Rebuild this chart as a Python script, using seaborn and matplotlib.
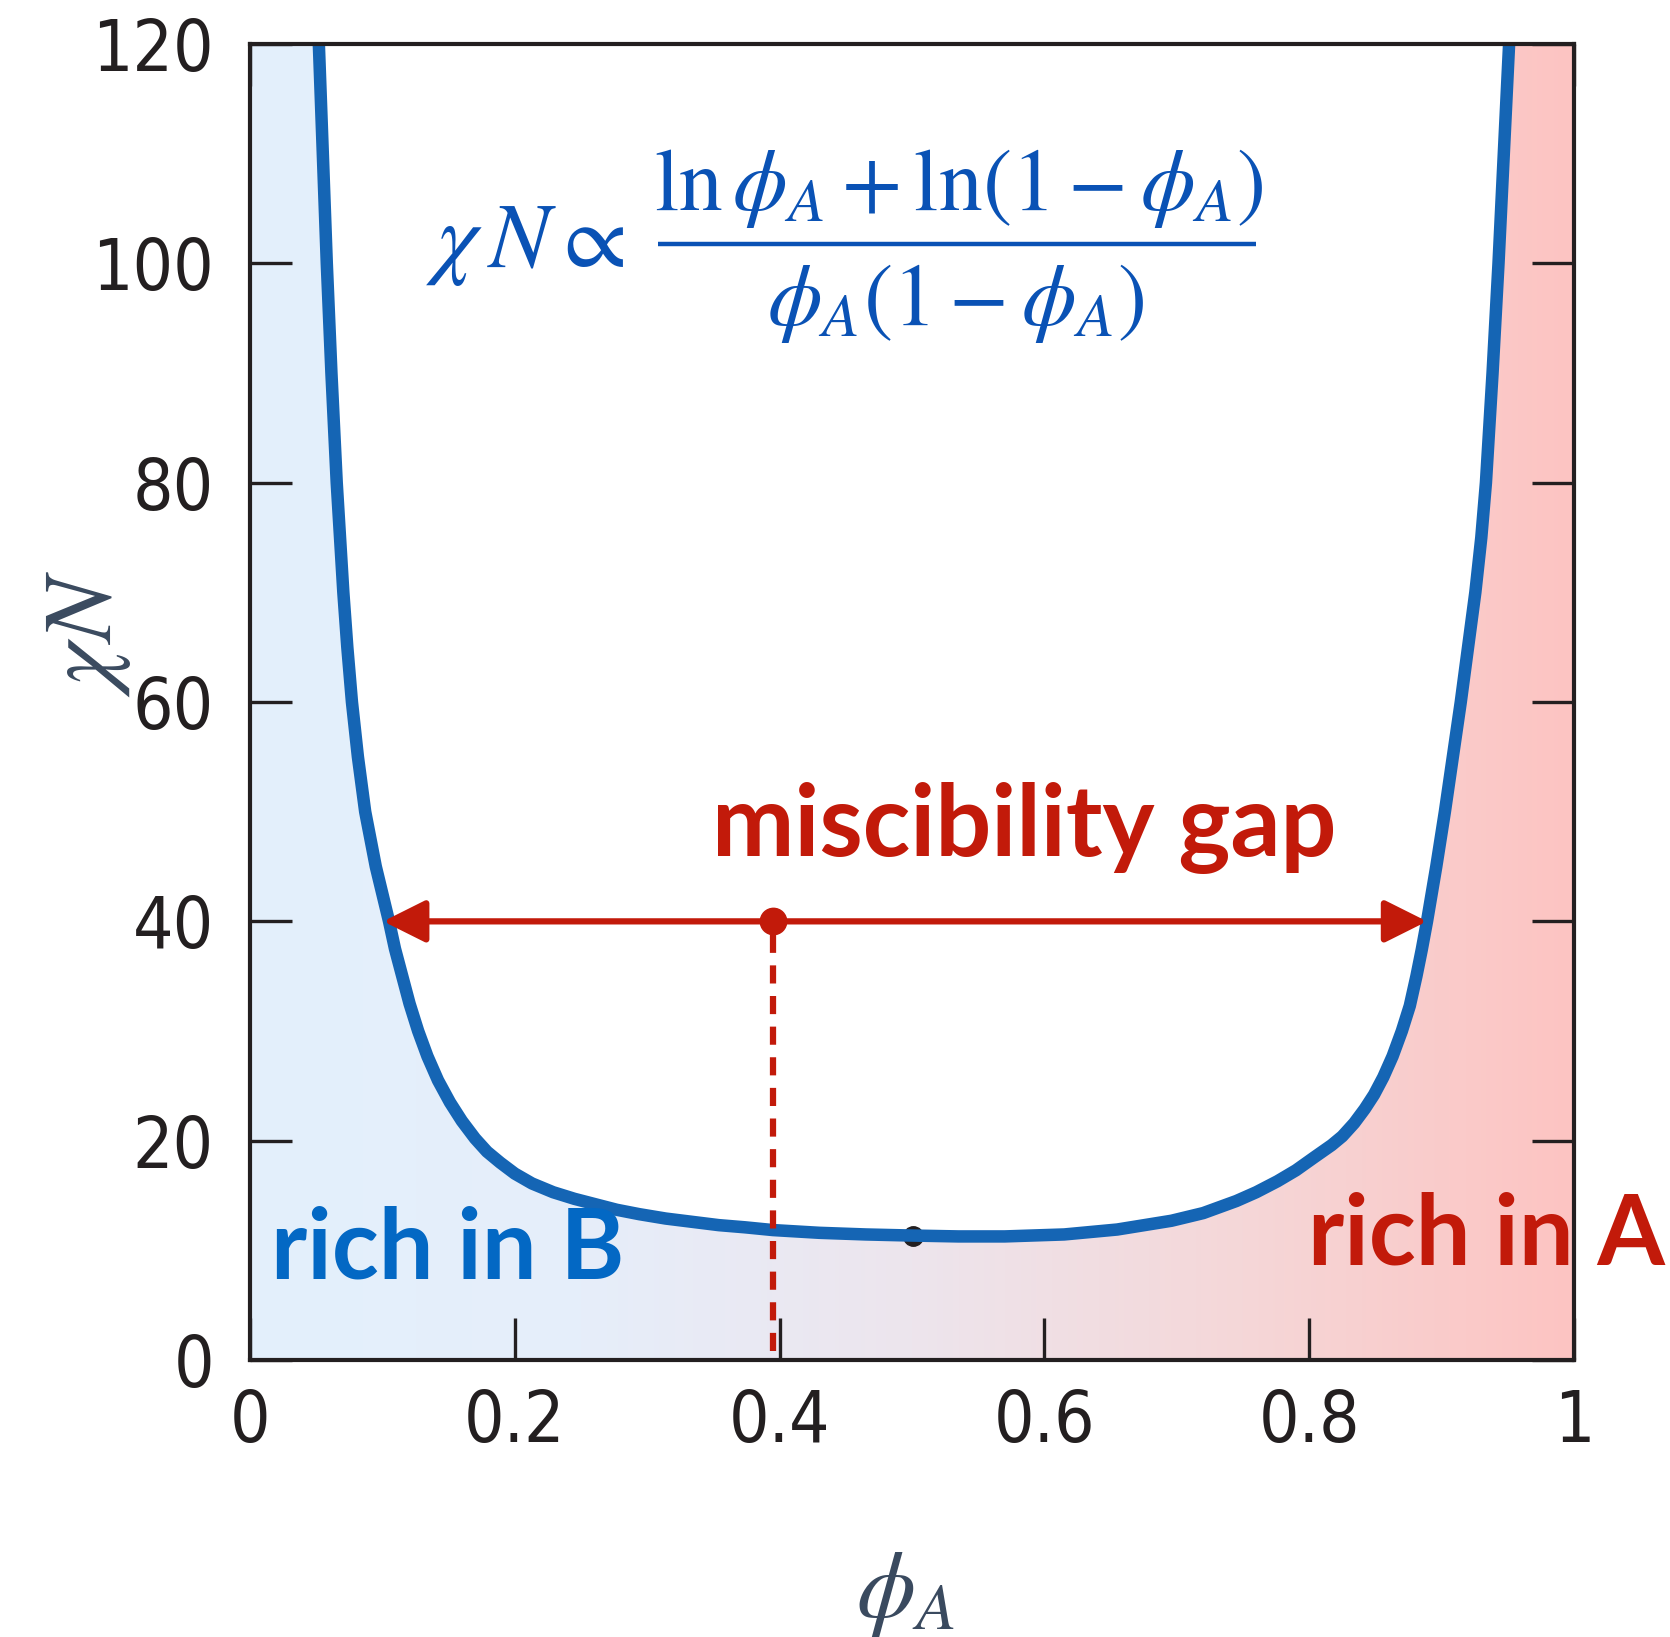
import numpy as np
import pandas as pd
import matplotlib
matplotlib.use("Agg")
import matplotlib.pyplot as plt
from matplotlib import font_manager
from matplotlib.font_manager import FontProperties
from matplotlib.colors import LinearSegmentedColormap
import seaborn as sns

# ---- data ----
phi_A = [0.052, 0.055, 0.058, 0.0615, 0.0655, 0.0705, 0.0735, 0.077, 0.0815, 0.087,
         0.095, 0.105, 0.1095, 0.115, 0.1205, 0.127, 0.134, 0.142, 0.151, 0.160,
         0.170, 0.179, 0.189, 0.200, 0.213, 0.229, 0.245, 0.261, 0.277, 0.294,
         0.314, 0.334, 0.354, 0.374, 0.395, 0.430, 0.465, 0.500, 0.535, 0.570,
         0.615, 0.655, 0.696, 0.720, 0.745, 0.760, 0.776, 0.790, 0.804, 0.817,
         0.825, 0.834, 0.842, 0.849, 0.856, 0.863, 0.870, 0.876, 0.881, 0.885,
         0.889, 0.896, 0.9025, 0.9085, 0.9145, 0.920, 0.9255, 0.930, 0.9335, 0.9385,
         0.943, 0.947, 0.951]
chi_N = [120.0, 110.0, 100.0, 90.0, 80.0, 70.0, 65.0, 60.0, 55.0, 50.0,
         45.0, 40.0, 37.5, 35.0, 32.5, 30.0, 27.7, 25.5, 23.5, 21.8,
         20.2, 19.0, 18.0, 17.0, 16.1, 15.3, 14.7, 14.2, 13.7, 13.3,
         12.9, 12.6, 12.3, 12.1, 11.85, 11.6, 11.45, 11.35, 11.27, 11.27,
         11.45, 11.9, 12.7, 13.4, 14.5, 15.3, 16.3, 17.3, 18.5, 19.6,
         20.4, 21.6, 22.9, 24.2, 25.8, 27.7, 30.0, 32.3, 35.0, 37.4,
         40.0, 45.0, 50.0, 55.0, 60.0, 65.0, 70.0, 75.0, 80.0, 90.0,
         100.0, 110.0, 120.0]

x_ticks = [0, 0.2, 0.4, 0.6, 0.8, 1.0]
x_tick_labels = ["0", "0.2", "0.4", "0.6", "0.8", "1"]
y_ticks = [0, 20, 40, 60, 80, 100, 120]
y_tick_labels = ["0", "20", "40", "60", "80", "100", "120"]

gap_chiN = 40.0
gap_left_phi = 0.1006
gap_right_phi = 0.889
overall_phi = 0.395
critical_phi = 0.501
critical_chiN = 11.35

df = pd.DataFrame({"phi": phi_A, "chiN": chi_N})

# ---- fonts ----
sns.set_theme(style="white")
fl = font_manager.fontManager.ttflist
def find_narrow():
    prefs = ["Liberation Sans Narrow", "DejaVu Sans", "Noto Sans", "Roboto", "Open Sans"]
    cands = []
    for f in fl:
        narrow = (f.stretch in ("condensed", "semi-condensed", "extra-condensed", "ultra-condensed")
                  or "Narrow" in f.name or "Condensed" in f.name
                  or "Narrow" in f.fname or "Condensed" in f.fname)
        w = f.weight if isinstance(f.weight, int) else 400
        if narrow and f.style == "normal" and w in (400, "normal", "regular"):
            cands.append(f)
    for p in prefs:
        for f in cands:
            if f.name == p:
                return f.fname
    return cands[0].fname if cands else None

narrow_path = find_narrow()
avail = {f.name for f in fl}
bold_font = "Lato" if "Lato" in avail else "DejaVu Sans"
plt.rcParams["font.family"] = ["DejaVu Sans"]
plt.rcParams["mathtext.fontset"] = "stix"
if narrow_path:
    tick_fp = FontProperties(fname=narrow_path, size=51)
else:
    tick_fp = FontProperties(family="Roboto", size=50)

DARK = "#231f20"
BLUE = "#1565b4"
RED = "#c21a0a"
LABEL = "#3a4a5f"
FORM = "#0a52b5"

fig = plt.figure(figsize=(16.7, 16.37), dpi=100)
ax = fig.add_axes([0.1497, 0.1692, 0.7928, 0.8039])

# gradient background
cmap = LinearSegmentedColormap.from_list(
    "bg", [(0.0, "#e3f0fc"), (0.25, "#e6eefa"), (0.5, "#ede5ed"), (0.75, "#f5d7d8"), (1.0, "#fdc4c2")])
grad = np.linspace(0, 1, 512).reshape(1, -1)
ax.imshow(grad, extent=[0, 1, 0, 120], aspect="auto", cmap=cmap, zorder=0, origin="lower")
ax.fill_between(df["phi"], df["chiN"], 121, color="white", zorder=1, linewidth=0)

sns.lineplot(data=df, x="phi", y="chiN", ax=ax, color=BLUE, linewidth=9,
             estimator=None, sort=False, zorder=3)

# miscibility gap arrow
ax.annotate("", xy=(gap_left_phi, gap_chiN), xytext=(gap_right_phi, gap_chiN),
            arrowprops=dict(arrowstyle="<|-|>,head_length=1.0,head_width=0.5", color=RED,
                            lw=4.5, shrinkA=0, shrinkB=0, mutation_scale=26), zorder=4)
ax.plot([overall_phi, overall_phi], [0.8, gap_chiN], color=RED, lw=4.5,
        linestyle=(0, (2.9, 2.0)), zorder=4)
ax.plot([overall_phi], [gap_chiN], "o", color=RED, markersize=19, zorder=5)
ax.plot([critical_phi], [critical_chiN], "o", color=DARK, markersize=14, zorder=2)

ax.set_xlim(0, 1)
ax.set_ylim(0, 120)
ax.set_xticks(x_ticks)
ax.set_xticklabels(x_tick_labels, fontproperties=tick_fp)
ax.set_yticks(y_ticks)
ax.set_yticklabels(y_tick_labels, fontproperties=tick_fp)
ax.set_xlabel("")
ax.set_ylabel("")
ax.tick_params(direction="in", length=30, width=2.4, color=DARK, labelcolor=DARK,
               top=True, right=True, bottom=True, left=True)
ax.tick_params(axis="y", pad=26)
ax.tick_params(axis="x", pad=20)
for s in ax.spines.values():
    s.set_visible(True)
    s.set_linewidth(3.0)
    s.set_color(DARK)
    s.set_zorder(6)

# texts
ax.text(0.5845, 46.0, "miscibility gap", color=RED, fontsize=71, fontweight="bold",
        family=[bold_font, "DejaVu Sans"], ha="center", va="baseline", zorder=6)
ax.text(0.016, 7.4, "rich in B", color="#0368c4", fontsize=70, fontweight="bold",
        family=[bold_font, "DejaVu Sans"], ha="left", va="baseline", zorder=6)
ax.text(0.799, 8.7, "rich in A", color=RED, fontsize=70, fontweight="bold",
        family=[bold_font, "DejaVu Sans"], ha="left", va="baseline", zorder=6, clip_on=False)

# formula
ax.text(0.133, 99.7, r"$\chi\, N \propto$", color=FORM, fontsize=66,
        ha="left", va="baseline", zorder=6)
ax.text(0.535, 104.9, r"$\ln\phi_A + \ln(1-\phi_A)$", color=FORM, fontsize=63,
        ha="center", va="baseline", zorder=6)
ax.plot([0.308, 0.760], [101.8, 101.8], color=FORM, lw=3.2, zorder=6, solid_capstyle="butt")
ax.text(0.533, 94.4, r"$\phi_A(1-\phi_A)$", color=FORM, fontsize=63,
        ha="center", va="baseline", zorder=6)

fig.text(0.052, 0.613, r"$\chi N$", color=LABEL, fontsize=70, rotation=90,
         ha="center", va="center")
fig.text(0.542, 0.027, r"$\phi_A$", color=LABEL, fontsize=68, ha="center", va="center")

fig.savefig("out.png", dpi=100)
